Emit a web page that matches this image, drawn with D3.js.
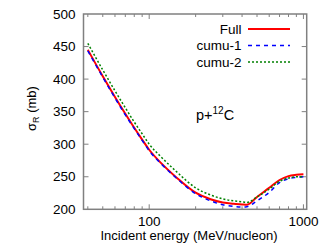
<!DOCTYPE html>
<html>
<head>
<meta charset="utf-8">
<script src="https://cdn.jsdelivr.net/npm/d3@7"></script>
<style>
body { margin: 0; background: #fff; }
svg text { font-family: "Liberation Sans", Arial, sans-serif; }
</style>
</head>
<body>
<div id="container"></div>
<script>
const width = 324;
const height = 252;
const margin = { left: 83.5, right: 17.3, top: 14, bottom: 42.7 };

const energies = [40, 50, 60, 70, 80, 90, 100, 120, 150, 200, 250, 300, 350, 400, 430, 500, 600, 700, 800, 900, 1000];
const full  = [445, 404.3, 372.6, 346.8, 325.3, 307.1, 291.5, 270.5, 249, 225.5, 215.5, 210.5, 208.5, 207.5, 207, 219, 233, 245, 251, 253, 254];
const cumu1 = [443.5, 403, 371, 345, 324, 306, 290, 269.5, 248, 224, 213, 207, 204.5, 203.5, 204, 213, 226, 241, 247, 249, 250];
const cumu2 = [455, 414, 382, 356, 334, 316, 300, 280, 258, 233, 222, 216, 213, 211.5, 210.5, 219, 231, 243, 248, 250, 250];

const yTicks = [200, 250, 300, 350, 400, 450, 500];
const xMajor = [100, 1000];
const xMinor = [40, 50, 60, 70, 80, 90, 200, 300, 400, 500, 600, 700, 800, 900];

const series = [
    { name: "Full", values: full, color: "#ff0000", width: 2, dash: null },
    { name: "cumu-1", values: cumu1, color: "#0000ff", width: 1.5, dash: "4,4" },
    { name: "cumu-2", values: cumu2, color: "#008000", width: 1.5, dash: "2,2" },
];

const x = d3.scaleLog().domain([37.5, 1050]).range([margin.left, width - margin.right]);
const y = d3.scaleLinear().domain([200, 500]).range([height - margin.bottom, margin.top]);

const svg = d3.select("#container")
    .append("svg")
    .attr("width", width)
    .attr("height", height);

const frame = "#808080";
const x0 = margin.left, x1 = width - margin.right;
const y0 = height - margin.bottom, y1 = margin.top;

// ticks (inside, mirrored)
const tk = svg.append("g").attr("stroke", frame).attr("stroke-width", 1);
yTicks.slice(1, -1).forEach((v) => {
    tk.append("line").attr("x1", x0).attr("x2", x0 + 5).attr("y1", y(v)).attr("y2", y(v));
    tk.append("line").attr("x1", x1).attr("x2", x1 - 5).attr("y1", y(v)).attr("y2", y(v));
});
xMajor.forEach((v) => {
    tk.append("line").attr("x1", x(v)).attr("x2", x(v)).attr("y1", y0).attr("y2", y0 - 5);
    tk.append("line").attr("x1", x(v)).attr("x2", x(v)).attr("y1", y1).attr("y2", y1 + 5);
});
xMinor.forEach((v) => {
    tk.append("line").attr("x1", x(v)).attr("x2", x(v)).attr("y1", y0).attr("y2", y0 - 3);
    tk.append("line").attr("x1", x(v)).attr("x2", x(v)).attr("y1", y1).attr("y2", y1 + 3);
});

// tick labels
svg.append("g").selectAll("text")
    .data(yTicks)
    .enter()
    .append("text")
    .attr("x", x0 - 8)
    .attr("y", (d) => y(d))
    .attr("dy", "0.35em")
    .attr("text-anchor", "end")
    .attr("font-size", 13.5)
    .text((d) => d);
svg.append("g").selectAll("text")
    .data(xMajor)
    .enter()
    .append("text")
    .attr("x", (d) => x(d))
    .attr("y", y0 + 17)
    .attr("text-anchor", "middle")
    .attr("font-size", 13.5)
    .text((d) => d);

// curves
const line = d3.line()
    .x((d) => x(d[0]))
    .y((d) => y(d[1]))
    .curve(d3.curveMonotoneX);
series.forEach((s) => {
    svg.append("path")
        .datum(energies.map((e, i) => [e, s.values[i]]))
        .attr("fill", "none")
        .attr("stroke", s.color)
        .attr("stroke-width", s.width)
        .attr("stroke-dasharray", s.dash)
        .attr("d", line);
});

// frame
svg.append("rect")
    .attr("x", x0).attr("y", y1)
    .attr("width", x1 - x0).attr("height", y0 - y1)
    .attr("fill", "none")
    .attr("stroke", frame)
    .attr("stroke-width", 1.5);

// legend
series.forEach((s, i) => {
    const ly = 29 + i * 16.5;
    svg.append("text")
        .attr("x", 241.5)
        .attr("y", ly)
        .attr("dy", "0.35em")
        .attr("text-anchor", "end")
        .attr("font-size", 13.5)
        .text(s.name);
    svg.append("line")
        .attr("x1", 248).attr("x2", 290)
        .attr("y1", ly).attr("y2", ly)
        .attr("stroke", s.color)
        .attr("stroke-width", s.width)
        .attr("stroke-dasharray", s.dash);
});

// reaction label
const lab = svg.append("text")
    .attr("x", 196)
    .attr("y", 120)
    .attr("font-size", 14.5);
lab.append("tspan").text("p+");
lab.append("tspan").attr("font-size", 10).attr("dy", -6.5).text("12");
lab.append("tspan").attr("dy", 6.5).text("C");

// axis titles
svg.append("text")
    .attr("x", 189)
    .attr("y", 240)
    .attr("text-anchor", "middle")
    .attr("font-size", 13)
    .text("Incident energy (MeV/nucleon)");
const yt = svg.append("text")
    .attr("transform", "translate(36,108.5) rotate(-90)")
    .attr("text-anchor", "middle")
    .attr("font-size", 13);
yt.append("tspan").text("σ");
yt.append("tspan").attr("font-size", 9).attr("dy", 3).text("R");
yt.append("tspan").attr("dy", -3).text(" (mb)");
</script>
</body>
</html>
